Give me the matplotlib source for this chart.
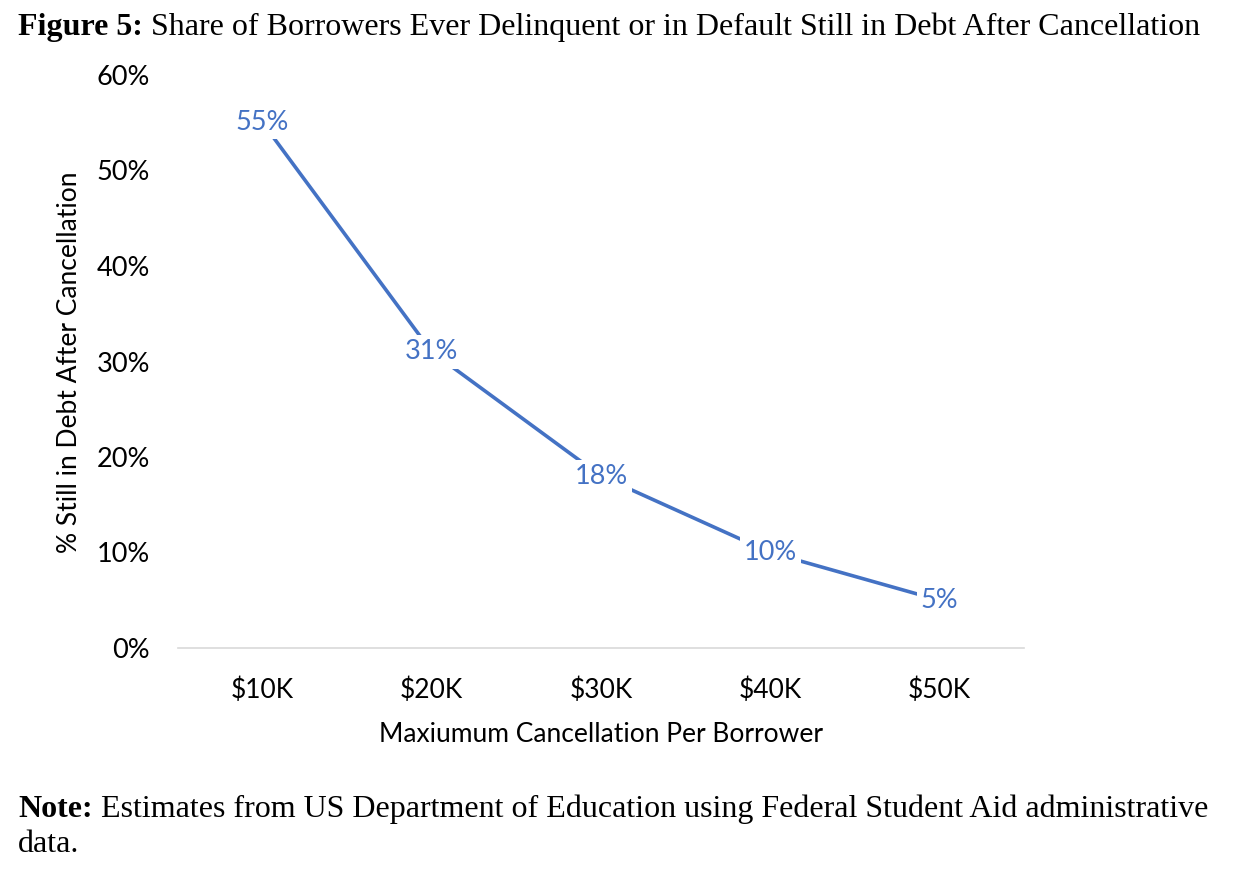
import numpy as np
import matplotlib
matplotlib.use("Agg")
import matplotlib.pyplot as plt

# data
categories = ["$10K", "$20K", "$30K", "$40K", "$50K"]
share_in_debt = [0.55, 0.31, 0.18, 0.10, 0.05]
value_labels = ["55%", "31%", "18%", "10%", "5%"]
y_ticks = [0.0, 0.1, 0.2, 0.3, 0.4, 0.5, 0.6]
y_tick_labels = ["0%", "10%", "20%", "30%", "40%", "50%", "60%"]

W, H = 1238, 886
blue = "#4472C4"
sans = "Lato"
serif = "Liberation Serif"

fig = plt.figure(figsize=(W / 100, H / 100), dpi=100)
fig.patch.set_facecolor("white")

# axes placed in pixel terms
ax_left, ax_right, ax_bottom, ax_top = 178, 1024, 648, 75
ax = fig.add_axes([ax_left / W, 1 - ax_bottom / H,
                   (ax_right - ax_left) / W, (ax_bottom - ax_top) / H])

x = np.arange(1, len(categories) + 1)
ax.plot(x, share_in_debt, color=blue, linewidth=2.6, solid_capstyle="butt", zorder=2)

for xi, yi, lab in zip(x, share_in_debt, value_labels):
    ax.text(xi, yi, lab, ha="center", va="center", color=blue, fontsize=19.5,
            family=sans, zorder=3,
            bbox=dict(facecolor="white", edgecolor="none", pad=3))

ax.set_xlim(0.5, len(categories) + 0.5)
ax.set_ylim(0, 0.6)
ax.set_xticks(x)
ax.set_xticklabels(categories, family=sans, fontsize=19)
ax.set_yticks(y_ticks)
ax.set_yticklabels(y_tick_labels, family=sans, fontsize=19.5)
ax.tick_params(axis="both", length=0)
ax.tick_params(axis="y", pad=20)
ax.tick_params(axis="x", pad=21)

for side in ["top", "right", "left"]:
    ax.spines[side].set_visible(False)
ax.spines["bottom"].set_color("#D9D9D9")
ax.spines["bottom"].set_linewidth(1.2)

fig.text(70 / W, 1 - 362 / H, "% Still in Debt After Cancellation", rotation=90,
         ha="center", va="center", family=sans, fontsize=19)
fig.text(601 / W, 1 - 735 / H, "Maxiumum Cancellation Per Borrower",
         ha="center", va="center", family=sans, fontsize=19)

# title: bold prefix followed by regular text
t1 = fig.text(18 / W, 1 - 35 / H, "Figure 5:", family=serif, weight="bold",
              fontsize=23, va="baseline", ha="left")
ax.annotate(" Share of Borrowers Ever Delinquent or in Default Still in Debt After Cancellation",
            xy=(1, 0), xycoords=t1, va="bottom", ha="left",
            family=serif, fontsize=23, annotation_clip=False)

# note
n1 = fig.text(18 / W, 1 - 817 / H, "Note:", family=serif, weight="bold",
              fontsize=23, va="baseline", ha="left")
ax.annotate(" Estimates from US Department of Education using Federal Student Aid administrative",
            xy=(1, 0), xycoords=n1, va="bottom", ha="left",
            family=serif, fontsize=23, annotation_clip=False)
fig.text(18 / W, 1 - 852 / H, "data.", family=serif, fontsize=23,
         va="baseline", ha="left")

fig.savefig("out.png", dpi=100)
